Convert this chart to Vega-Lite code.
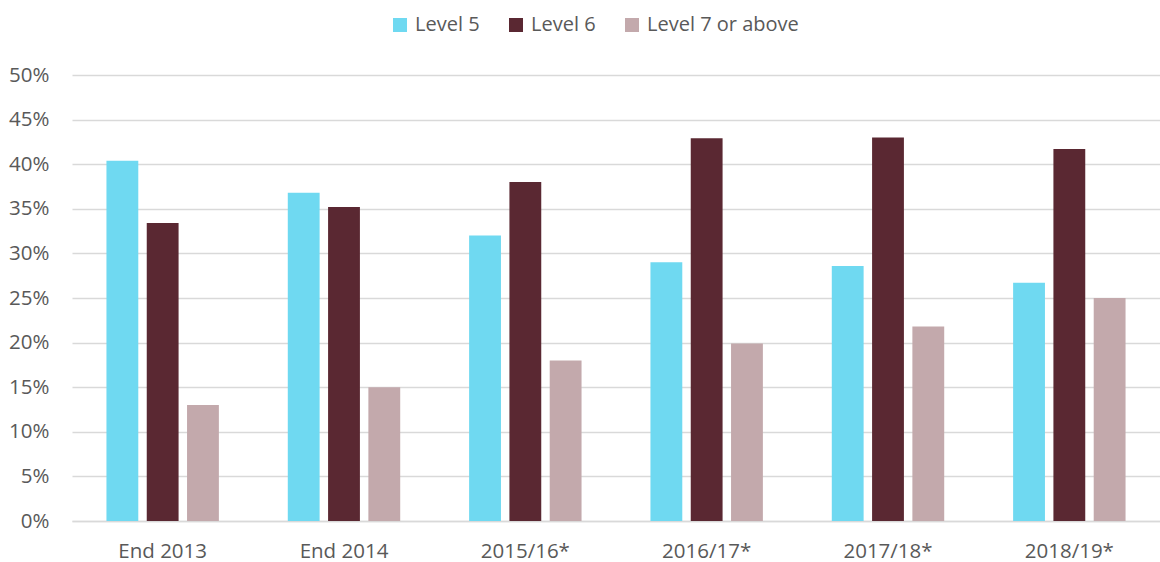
{
  "$schema": "https://vega.github.io/schema/vega-lite/v6.json",
  "autosize": "none",
  "width": 1088,
  "height": 446,
  "padding": {"left": 72, "top": 75, "right": 0, "bottom": 41},
  "background": "white",
  "config": {
    "font": "Open Sans",
    "view": {"stroke": null}
  },
  "data": {
    "values": [
      {"period": "End 2013", "level": "Level 5", "share": 0.404},
      {"period": "End 2013", "level": "Level 6", "share": 0.334},
      {"period": "End 2013", "level": "Level 7 or above", "share": 0.130},
      {"period": "End 2014", "level": "Level 5", "share": 0.368},
      {"period": "End 2014", "level": "Level 6", "share": 0.352},
      {"period": "End 2014", "level": "Level 7 or above", "share": 0.150},
      {"period": "2015/16*", "level": "Level 5", "share": 0.320},
      {"period": "2015/16*", "level": "Level 6", "share": 0.380},
      {"period": "2015/16*", "level": "Level 7 or above", "share": 0.180},
      {"period": "2016/17*", "level": "Level 5", "share": 0.290},
      {"period": "2016/17*", "level": "Level 6", "share": 0.429},
      {"period": "2016/17*", "level": "Level 7 or above", "share": 0.199},
      {"period": "2017/18*", "level": "Level 5", "share": 0.286},
      {"period": "2017/18*", "level": "Level 6", "share": 0.430},
      {"period": "2017/18*", "level": "Level 7 or above", "share": 0.218},
      {"period": "2018/19*", "level": "Level 5", "share": 0.267},
      {"period": "2018/19*", "level": "Level 6", "share": 0.417},
      {"period": "2018/19*", "level": "Level 7 or above", "share": 0.250}
    ]
  },
  "mark": {"type": "bar"},
  "encoding": {
    "x": {
      "field": "period",
      "type": "nominal",
      "sort": null,
      "scale": {"paddingInner": 0.38, "paddingOuter": 0.19},
      "axis": {
        "title": null,
        "labelAngle": 0,
        "labelFontSize": 20.5,
        "labelColor": "#595959",
        "labelPadding": 20,
        "ticks": false,
        "domain": true,
        "domainColor": "#d9d9d9",
        "domainWidth": 1.5
      }
    },
    "xOffset": {
      "field": "level",
      "type": "nominal",
      "scale": {"paddingInner": 0.21, "paddingOuter": 0}
    },
    "y": {
      "field": "share",
      "type": "quantitative",
      "scale": {"domain": [0, 0.5], "nice": false},
      "axis": {
        "title": null,
        "format": ".0%",
        "values": [0, 0.05, 0.1, 0.15, 0.2, 0.25, 0.3, 0.35, 0.4, 0.45, 0.5],
        "labelFontSize": 20.5,
        "labelColor": "#595959",
        "labelPadding": 23,
        "ticks": false,
        "domain": false,
        "grid": true,
        "gridColor": "#d9d9d9",
        "gridWidth": 1.5
      }
    },
    "color": {
      "field": "level",
      "type": "nominal",
      "scale": {
        "domain": ["Level 5", "Level 6", "Level 7 or above"],
        "range": ["#6fd9f1", "#5a2832", "#c3a9ac"]
      },
      "legend": {
        "title": null,
        "orient": "none",
        "legendX": 318,
        "legendY": -60,
        "direction": "horizontal",
        "symbolType": "square",
        "symbolSize": 196,
        "symbolStrokeWidth": 0,
        "labelFontSize": 20,
        "labelColor": "#595959",
        "columnPadding": 26,
        "labelOffset": 5
      }
    }
  }
}
